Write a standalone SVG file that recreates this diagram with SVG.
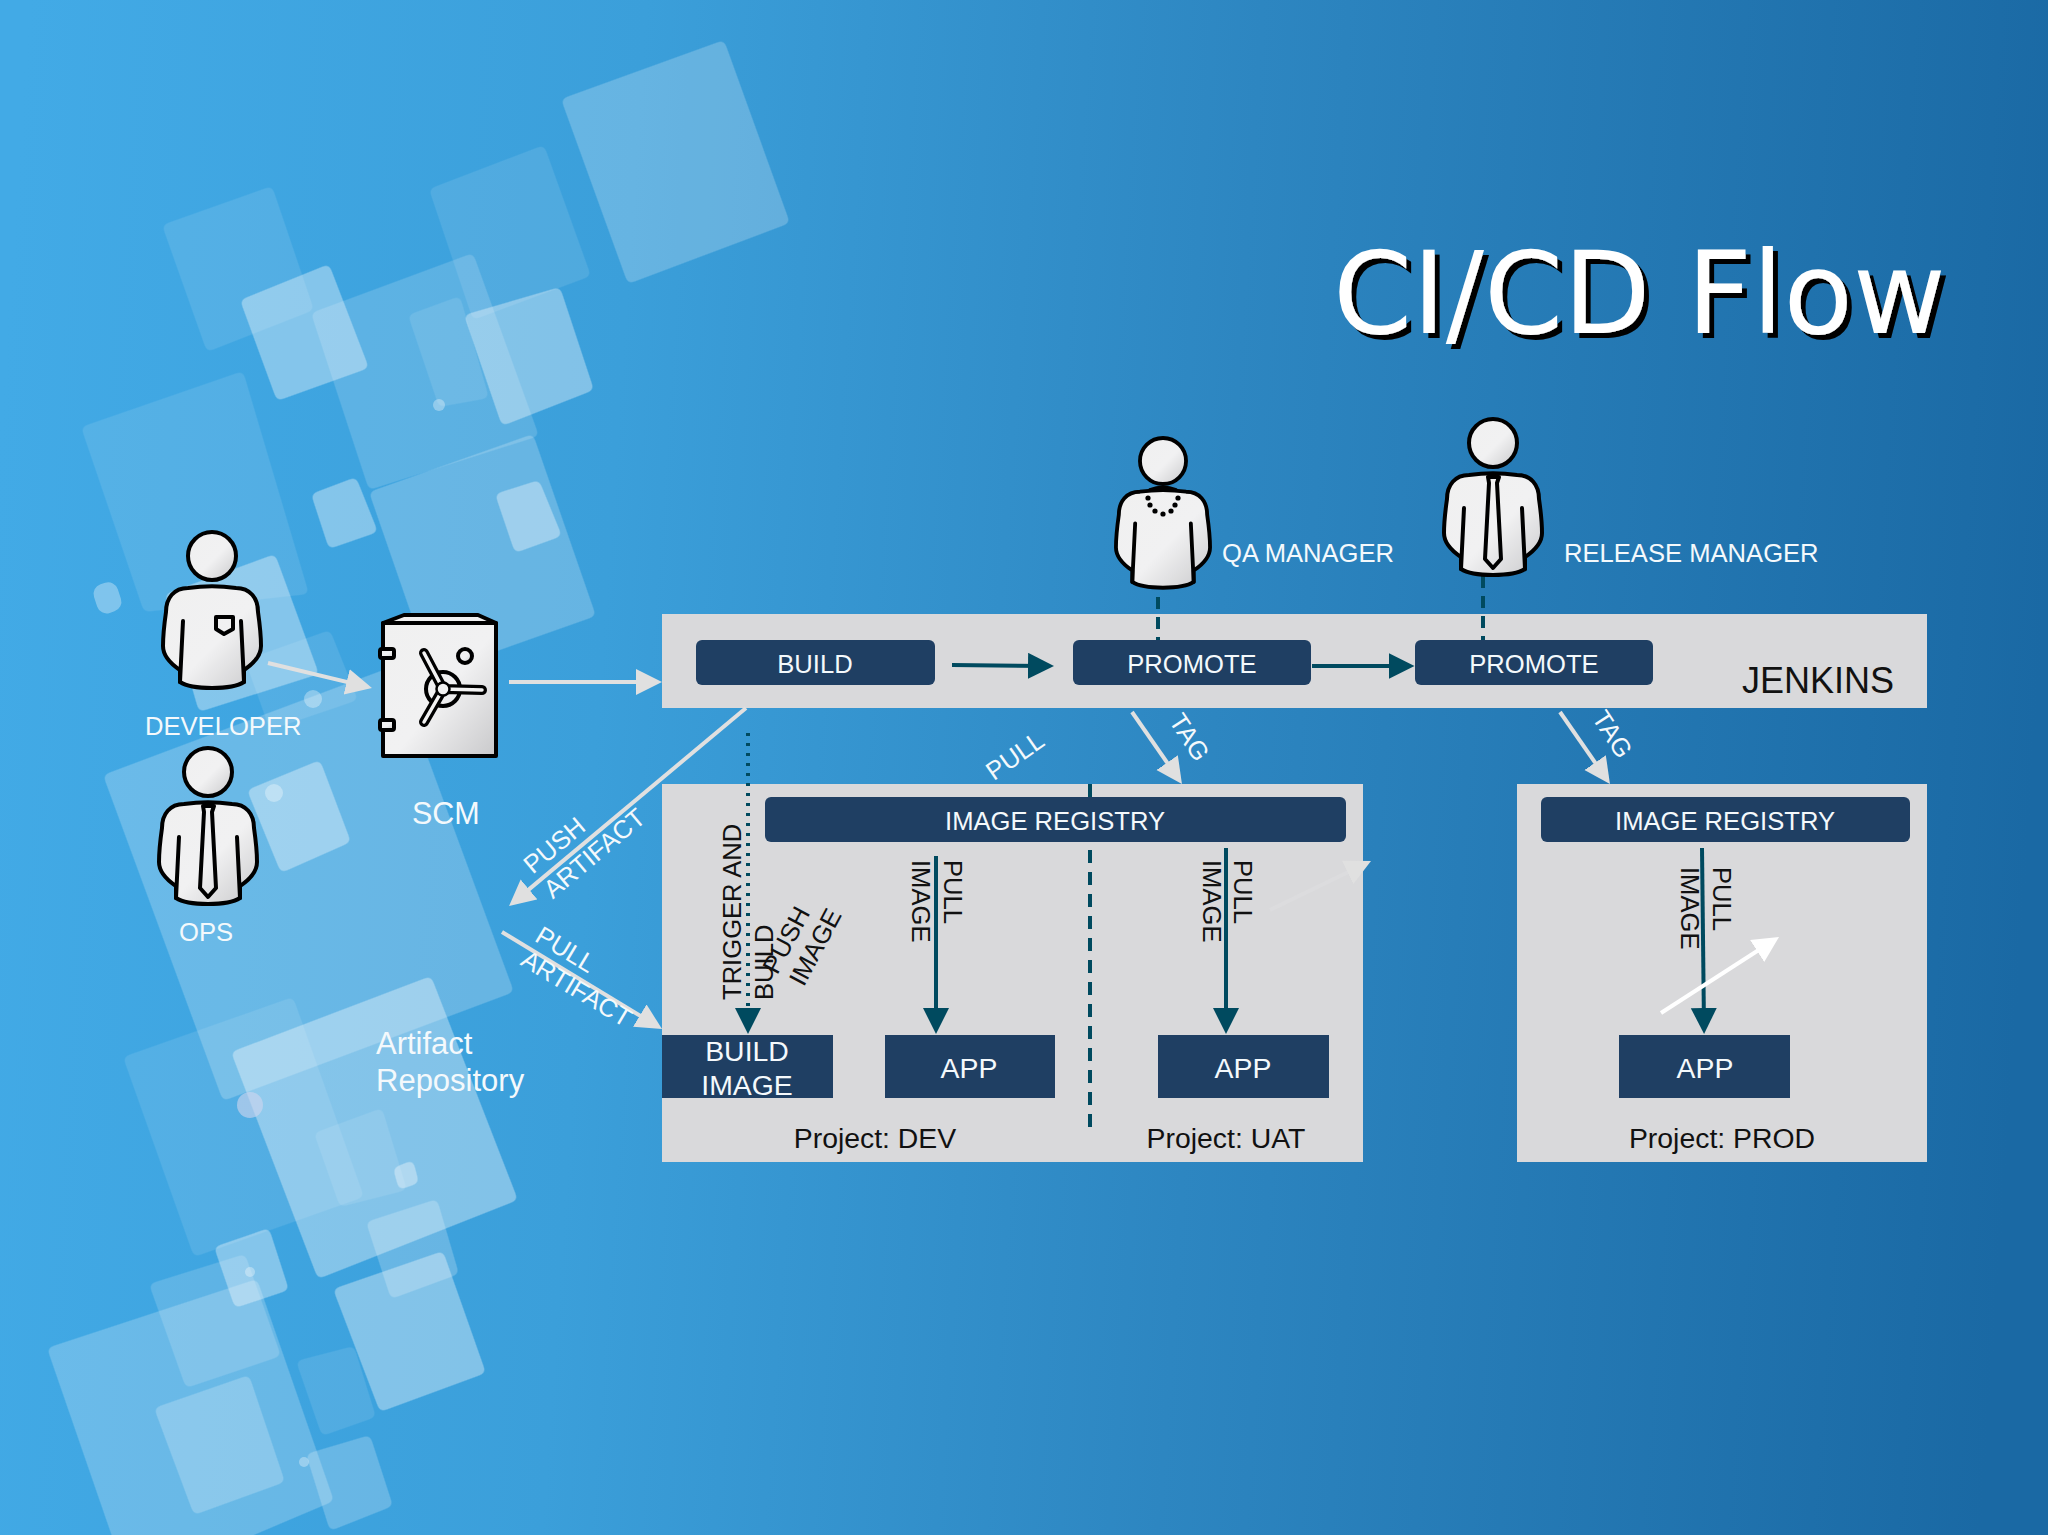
<svg xmlns="http://www.w3.org/2000/svg" xmlns:xlink="http://www.w3.org/1999/xlink" width="2048" height="1535" viewBox="0 0 2048 1535">
<style>
text{font-family:"Liberation Sans",Arial,sans-serif;font-size:25.6px}
.w{fill:#f4f9fc}.k{fill:#111}.m{text-anchor:middle}
.s1,.s2,.s3,.s4{fill:#fff;filter:url(#rnd)}
.s1{opacity:.22}.s2{opacity:.36}.s3{opacity:.1}.s4{opacity:.16}
.d{fill:#fff;opacity:.33}
.panel{fill:#d9d9db}.btn{fill:#1f3f63}
.g{stroke:#e0e0e0;stroke-width:4;fill:none;marker-end:url(#ag)}
.t{stroke:#004a5f;stroke-width:4;fill:none;marker-end:url(#at)}
.o{stroke:#000;stroke-width:4;fill:url(#pg);stroke-linejoin:round;stroke-linecap:round}
.l{stroke:#000;stroke-width:4;fill:none;stroke-linecap:round;stroke-linejoin:round}
.t28{font-size:28.4px}.t31{font-size:31px}
</style>
<defs>
<linearGradient id="bg" gradientUnits="userSpaceOnUse" x1="0" y1="420" x2="2048" y2="560"><stop offset="0" stop-color="#42aae6"/><stop offset=".3" stop-color="#3b9fda"/><stop offset=".6" stop-color="#2d86c1"/><stop offset="1" stop-color="#1a69a4"/></linearGradient>
<linearGradient id="pg" x1="0" y1="0" x2="1" y2="1"><stop offset="0" stop-color="#f0f0f0"/><stop offset=".55" stop-color="#f1f1f2"/><stop offset="1" stop-color="#c9c9cb"/></linearGradient>
<marker id="ag" markerUnits="userSpaceOnUse" markerWidth="28" markerHeight="28" refX="18" refY="13" orient="auto"><path d="M0,0L26,13L0,26z" fill="#e0e0e0"/></marker>
<marker id="aw" markerUnits="userSpaceOnUse" markerWidth="28" markerHeight="28" refX="18" refY="13" orient="auto"><path d="M0,0L26,13L0,26z" fill="#fff"/></marker>
<marker id="at" markerUnits="userSpaceOnUse" markerWidth="28" markerHeight="28" refX="18" refY="13" orient="auto"><path d="M0,0L26,13L0,26z" fill="#004a5f"/></marker>
<filter id="sh" x="-5%" y="-5%" width="110%" height="115%"><feDropShadow dx="5" dy="5" stdDeviation="0.4" flood-color="#000"/></filter>
<filter id="rnd" x="-10%" y="-10%" width="120%" height="120%"><feGaussianBlur stdDeviation="3"/><feComponentTransfer><feFuncA type="linear" slope="6" intercept="-2.5"/></feComponentTransfer></filter>
<g id="body">
<ellipse cx="0" cy="0" rx="24" ry="24" class="o"/>
<path class="o" d="M-24,32C-38,32-46,42-46,56C-48,70-49,80-49,90C-49,100-41,108-32,114L-32,126C-20,134 20,134 32,126L32,114C41,108 49,100 49,90C49,80 48,70 46,56C46,42 38,32 24,32C10,30-10,30-24,32z"/>
<path class="l" d="M-29,65L-32,126M29,65L32,126"/>
</g>
</defs>
<rect width="2048" height="1535" fill="url(#bg)"/>
<g id="background">
<polygon class="s1" points="724,40 790,223 628,284 561,99"/>
<polygon class="s3" points="544,145 591,276 473,320 429,189"/>
<polygon class="s3" points="272,186 314,310 207,352 162,225"/>
<polygon class="s4" points="473,253 539,436 369,490 311,313"/>
<polygon class="s3" points="460,296 489,398 439,407 408,315"/>
<polygon class="s2" points="329,264 369,368 277,401 240,300"/>
<polygon class="s2" points="560,287 594,390 502,426 464,315"/>
<polygon class="s1" points="533,434 596,616 432,674 369,492"/>
<polygon class="s3" points="243,371 309,594 144,612 81,427"/>
<polygon class="s2" points="539,480 562,536 515,553 495,494"/>
<polygon class="s2" points="356,477 378,532 329,549 311,494"/>
<polygon class="s2" points="275,554 319,674 199,712 165,594"/>
<polygon class="s3" points="330,630 358,700 270,730 245,660"/>
<polygon class="s1" points="103,775 394,666 514,992 223,1101"/>
<polygon class="s2" points="320,760 351,842 281,873 247,790"/>
<polygon class="s3" points="293,997 364,1197 194,1257 123,1057"/>
<polygon class="s2" points="431,976 518,1200 318,1279 231,1052"/>
<polygon class="s3" points="382,1108 407,1190 340,1207 314,1133"/>
<polygon class="s2" points="413,1160 419,1183 399,1190 393,1168"/>
<polygon class="s3" points="354,1346 376,1417 322,1436 296,1361"/>
<polygon class="s1" points="437,1199 459,1274 391,1299 366,1222"/>
<polygon class="s2" points="443,1251 486,1373 380,1412 333,1289"/>
<polygon class="s4" points="245,1254 281,1356 186,1388 149,1284"/>
<polygon class="s1" points="47,1348 257,1279 334,1501 230,1545 115,1545"/>
<polygon class="s2" points="269,1228 289,1290 235,1308 214,1247"/>
<polygon class="s1" points="249,1375 285,1482 194,1515 154,1408"/>
<polygon class="s1" points="370,1435 393,1506 330,1531 306,1454"/>
<rect class="d" x="95" y="583" width="25" height="30" rx="10" transform="rotate(-18 107 598)"/>
<circle class="d" cx="439" cy="405" r="6"/>
<circle class="d" cx="313" cy="699" r="9"/>
<circle class="d" cx="274" cy="793" r="9"/>
<circle cx="250" cy="1105" r="13" fill="#d0d5ee" fill-opacity=".6"/>
<circle class="d" cx="304" cy="1462" r="5"/>
<circle class="d" cx="250" cy="1272" r="5"/>
</g>
<text x="1333" y="333" filter="url(#sh)" style="font-family:'DejaVu Sans',sans-serif;font-size:113.5px" fill="#fff">CI/CD Flow</text>

<g id="jenkins"><rect class="panel" x="662" y="614" width="1265" height="94"/><text class="k" x="1742" y="693" style="font-size:36px">JENKINS</text></g>
<g id="project-dev-uat"><rect class="panel" x="662" y="784" width="701" height="378"/></g>
<g id="project-prod"><rect class="panel" x="1517" y="784" width="410" height="378"/></g>

<g id="connectors">
<path class="g" d="M268,663L364.2,686.1"/>
<path class="g" d="M509,682L654,682"/>
<path class="g" d="M746,708L515.2,900.9"/>
<path class="g" d="M502,932L655.2,1024.9"/>
<path class="g" d="M1132,712L1177.4,777.4"/>
<path class="g" d="M1560,712L1605.4,777.4"/>
<path d="M1270,910L1363.8,864.5" fill="none" stroke="#dcdcde" stroke-width="4" marker-end="url(#ag)"/>
<path d="M952,665L1046,666" class="t"/>
<path d="M1312,666L1406.5,666" class="t"/>
<path d="M1158,597V640M1483,576V640" fill="none" stroke="#004a5f" stroke-width="4" stroke-dasharray="12 8"/>
<path d="M1090,784V1133" fill="none" stroke="#004a5f" stroke-width="4" stroke-dasharray="13 9"/>
<path d="M748,733V1026" class="t" stroke-dasharray="3 7"/>
<path d="M936,856V1026" class="t"/>
<path d="M1226,848V1026" class="t"/>
<path d="M1702,848L1704,1026" class="t"/>
<path d="M1661,1013L1772.3,941.3" fill="none" stroke="#fff" stroke-width="4" marker-end="url(#aw)"/>
</g>

<g id="build"><rect class="btn" x="696" y="640" width="239" height="45" rx="6"/><text class="w m" x="815" y="673">BUILD</text></g>
<g id="promote-1"><rect class="btn" x="1073" y="640" width="238" height="45" rx="6"/><text class="w m" x="1192" y="673">PROMOTE</text></g>
<g id="promote-2"><rect class="btn" x="1415" y="640" width="238" height="45" rx="6"/><text class="w m" x="1534" y="673">PROMOTE</text></g>
<g id="registry-dev"><rect class="btn" x="765" y="797" width="581" height="45" rx="6"/><text class="w m" x="1055" y="830">IMAGE REGISTRY</text></g>
<g id="registry-prod"><rect class="btn" x="1541" y="797" width="369" height="45" rx="6"/><text class="w m" x="1725" y="830">IMAGE REGISTRY</text></g>
<g id="build-image"><rect class="btn" x="662" y="1035" width="171" height="63"/><text class="w m t28" x="747" y="1061">BUILD</text><text class="w m t28" x="747" y="1095">IMAGE</text></g>
<g id="app-dev"><rect class="btn" x="885" y="1035" width="170" height="63"/><text class="w m t28" x="969" y="1078">APP</text></g>
<g id="app-uat"><rect class="btn" x="1158" y="1035" width="171" height="63"/><text class="w m t28" x="1243" y="1078">APP</text></g>
<g id="app-prod"><rect class="btn" x="1619" y="1035" width="171" height="63"/><text class="w m t28" x="1705" y="1078">APP</text></g>

<g id="developer">
<use xlink:href="#body" href="#body" x="212" y="556"/>
<path class="l" d="M216,617H233V629L224,634L216,629z"/>
<text class="w" x="145" y="735">DEVELOPER</text>
</g>
<g id="ops">
<use xlink:href="#body" href="#body" x="208" y="772"/>
<path class="l" d="M203,806H214L212,812L216,888L208,897L200,888L204,812z"/>
<text class="w" x="179" y="941">OPS</text>
</g>
<g id="qa-manager">
<use xlink:href="#body" href="#body" transform="translate(1163,461) scale(.96)"/>
<path class="l" d="M1150,490Q1163,485 1176,490"/>
<g fill="#000"><circle cx="1148" cy="498" r="2.6"/><circle cx="1150" cy="505" r="2.6"/><circle cx="1155" cy="511" r="2.6"/><circle cx="1163" cy="514" r="2.6"/><circle cx="1171" cy="511" r="2.6"/><circle cx="1175" cy="505" r="2.6"/><circle cx="1178" cy="498" r="2.6"/></g>
<text class="w" x="1222" y="562">QA MANAGER</text>
</g>
<g id="release-manager">
<use xlink:href="#body" href="#body" x="1493" y="443"/>
<path class="l" d="M1488,477H1499L1497,483L1501,559L1493,568L1485,559L1489,483z"/>
<text class="w" x="1564" y="562">RELEASE MANAGER</text>
</g>
<g id="scm">
<path class="o" d="M383,623L404,615H478L496,623V756H383z"/>
<path class="l" d="M383,623H496"/>
<rect class="o" x="380" y="649" width="14" height="9" rx="2"/>
<rect class="o" x="380" y="720" width="14" height="10" rx="2"/>
<circle class="o" cx="465" cy="656" r="7"/>
<circle class="l" cx="443" cy="689" r="17"/>
<path d="M443,689L424,653M443,689L482,690M443,689L424,722" stroke="#000" stroke-width="10" stroke-linecap="round" fill="none"/>
<path d="M443,689L424,653M443,689L482,690M443,689L424,722" stroke="#f2f2f2" stroke-width="3.5" stroke-linecap="round" fill="none"/>
<circle cx="443" cy="689" r="6.5" fill="#f2f2f2" stroke="#000" stroke-width="2.5"/>
<text class="w" x="412" y="824" style="font-size:30.5px">SCM</text>
</g>
<g id="artifact-repository">
<text class="w t31" x="376" y="1054">Artifact</text>
<text class="w t31" x="376" y="1091">Repository</text>
</g>

<g id="labels">
<text class="w m" transform="translate(560,852) rotate(-40)">PUSH</text>
<text class="w m" transform="translate(600,860) rotate(-40)">ARTIFACT</text>
<text class="w m" transform="translate(561,957) rotate(31)">PULL</text>
<text class="w m" transform="translate(572,996) rotate(31)">ARTIFACT</text>
<text class="w m" transform="translate(1020,763) rotate(-35)">PULL</text>
<text class="w m" transform="translate(1182,742) rotate(57)">TAG</text>
<text class="w m" transform="translate(1605,739) rotate(57)">TAG</text>
<text class="k" transform="translate(741,1000) rotate(-90)">TRIGGER AND</text>
<text class="k" transform="translate(773,1000) rotate(-90)">BUILD</text>
<text class="k m" transform="translate(794,944) rotate(-62)">PUSH</text>
<text class="k m" transform="translate(823,951) rotate(-62)">IMAGE</text>
<text class="k" transform="translate(944,860) rotate(90)">PULL</text>
<text class="k" transform="translate(912,860) rotate(90)">IMAGE</text>
<text class="k" transform="translate(1234,860) rotate(90)">PULL</text>
<text class="k" transform="translate(1203,860) rotate(90)">IMAGE</text>
<text class="k" transform="translate(1713,867) rotate(90)">PULL</text>
<text class="k" transform="translate(1681,867) rotate(90)">IMAGE</text>
<text class="k m t28" x="875" y="1148">Project: DEV</text>
<text class="k m t28" x="1226" y="1148">Project: UAT</text>
<text class="k m t28" x="1722" y="1148">Project: PROD</text>
</g>
</svg>
